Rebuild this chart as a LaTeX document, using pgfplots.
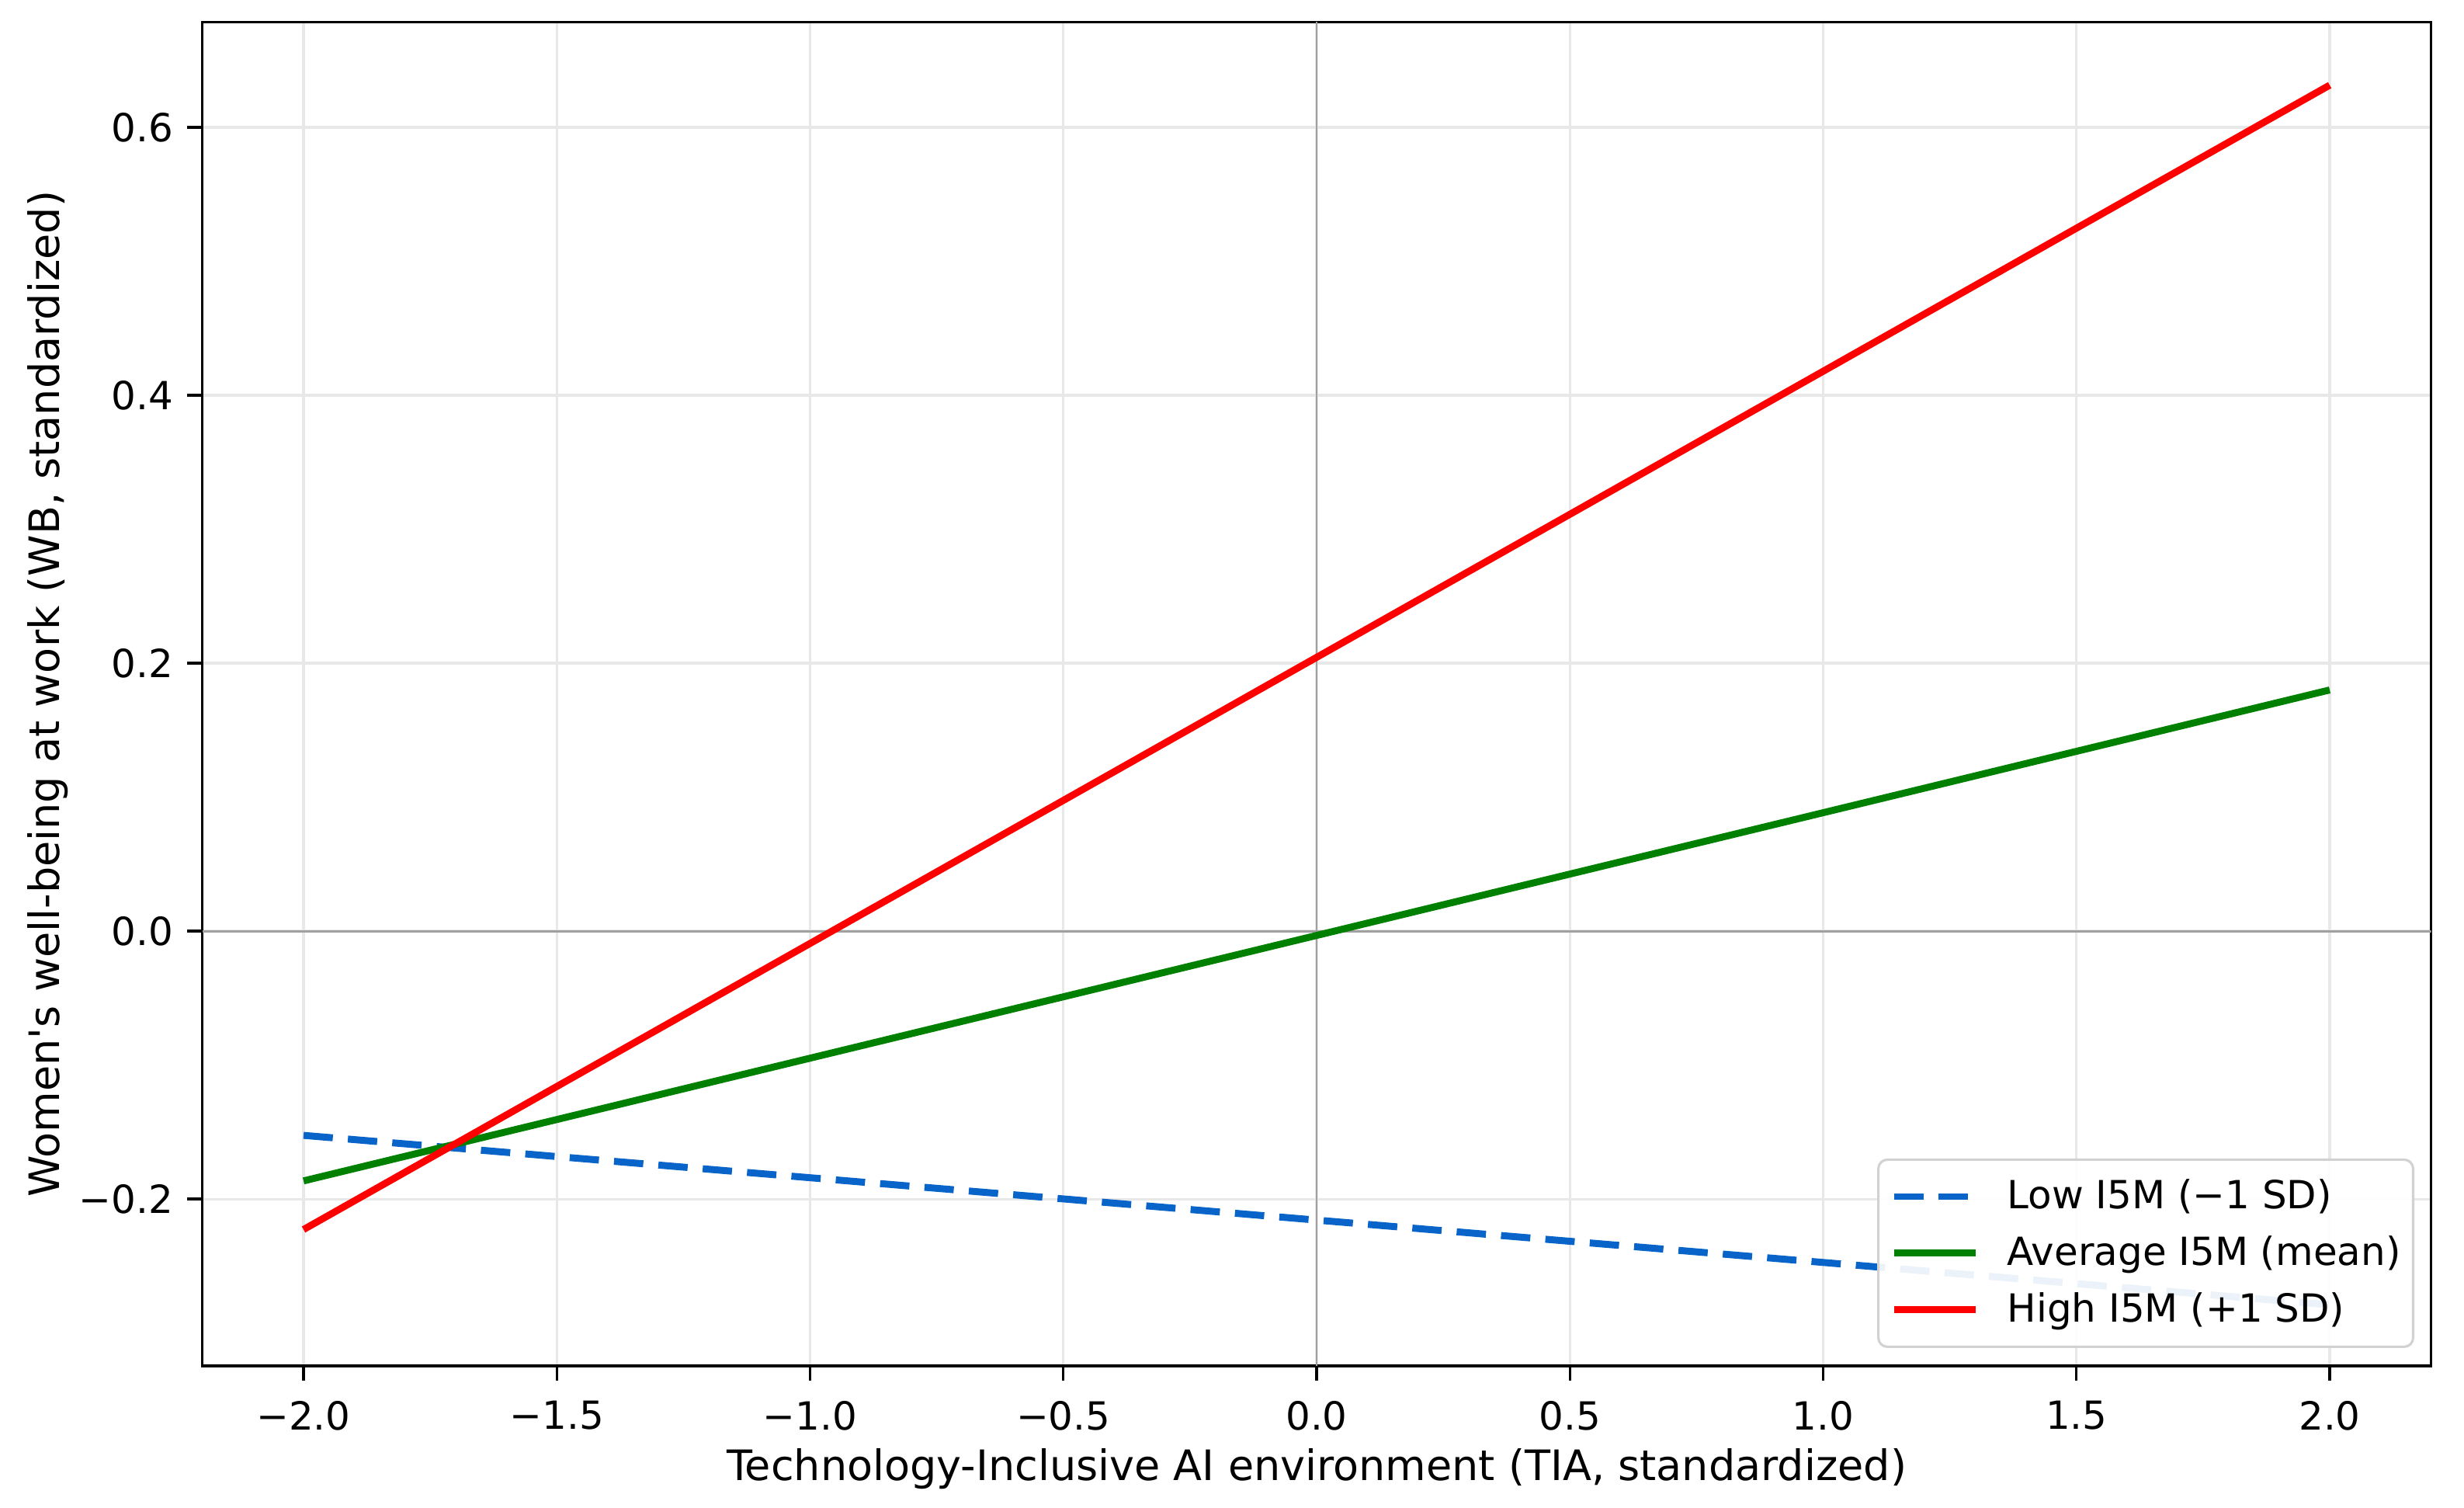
\documentclass[border=0pt]{standalone}
\usepackage{pgfplots}
\pgfplotsset{compat=1.18}
\usepackage{fontspec}
\setmainfont{DejaVu Sans}[Ligatures=TeXOff]
\definecolor{lowblue}{RGB}{8,100,200}
\definecolor{avggreen}{RGB}{0,128,0}
\definecolor{highred}{RGB}{255,0,0}
\definecolor{zerogray}{RGB}{160,160,160}
\definecolor{gridgray}{RGB}{232,232,232}
\definecolor{legedge}{RGB}{210,210,210}
\newcommand{\cf}{\fontsize{12.8pt}{15pt}\selectfont}
\newcommand{\lf}{\fontsize{13.85pt}{16pt}\selectfont}
\begin{document}
\cf
\begin{tikzpicture}
\path[use as bounding box] (-66.8pt,-46.67pt) rectangle (747.05pt,451.03pt);
\begin{axis}[
  at={(0pt,0pt)}, anchor=south west,
  scale only axis, width=736.15pt, height=443.74pt,
  xmin=-2.2, xmax=2.2, ymin=-0.3246, ymax=0.6786,
  xtick={-2,-1.5,-1,-0.5,0,0.5,1,1.5,2},
  xticklabels={−2.0,−1.5,−1.0,−0.5,0.0,0.5,1.0,1.5,2.0},
  ytick={-0.2,0,0.2,0.4,0.6},
  yticklabels={−0.2,0.0,0.2,0.4,0.6},
  tick pos=left, tick align=outside, major tick length=4.9pt,
  every tick/.style={black, line width=0.85pt},
  axis line style={black, line width=0.85pt},
  grid=major, major grid style={gridgray, line width=0.8pt},
  tick label style={font=\cf},
  label style={font=\lf},
  xticklabel style={anchor=north, inner sep=0pt, yshift=-6.5pt},
  yticklabel style={anchor=east, inner sep=0pt, xshift=-4.5pt},
  xlabel={Technology-Inclusive AI environment (TIA, standardized)},
  ylabel={Women's well-being at work (WB, standardized)},
  xlabel style={at={(axis description cs:0.5,-0.08541)}, anchor=base, inner sep=0pt},
  ylabel style={at={(axis description cs:-0.06398,0.5)}, anchor=base, inner sep=0pt},
  legend style={at={(rel axis cs:1,0)}, anchor=south east, xshift=-5.5pt, yshift=5.9pt,
    draw=legedge, line width=0.8pt, rounded corners=3pt, fill=white, fill opacity=0.92, text opacity=1,
    inner xsep=4.1pt, inner ysep=6.4pt, row sep=7.1pt, cells={anchor=west},
    nodes={inner sep=0pt, text height=9.8pt, text depth=1.8pt}, font=\cf,
    /tikz/every odd column/.append style={column sep=9.2pt}},
  legend image code/.code={\draw[#1] (0pt,0pt) -- (27pt,0pt);},
]
\addplot[zerogray, line width=0.75pt, forget plot] coordinates {(-2.2,0) (2.2,0)};
\addplot[zerogray, line width=0.75pt, forget plot] coordinates {(0,-0.3246) (0,0.6786)};
\addplot[lowblue, line width=2.3pt, dash pattern=on 9.7pt off 5pt] coordinates {(-2,-0.1525) (2,-0.279)};
\addlegendentry{Low I5M (−1 SD)}
\addplot[avggreen, line width=2.3pt] coordinates {(-2,-0.1865) (2,0.180)};
\addlegendentry{Average I5M (mean)}
\addplot[highred, line width=2.3pt] coordinates {(-2,-0.2228) (2,0.6315)};
\addlegendentry{High I5M (+1 SD)}
\end{axis}
\end{tikzpicture}
\end{document}
